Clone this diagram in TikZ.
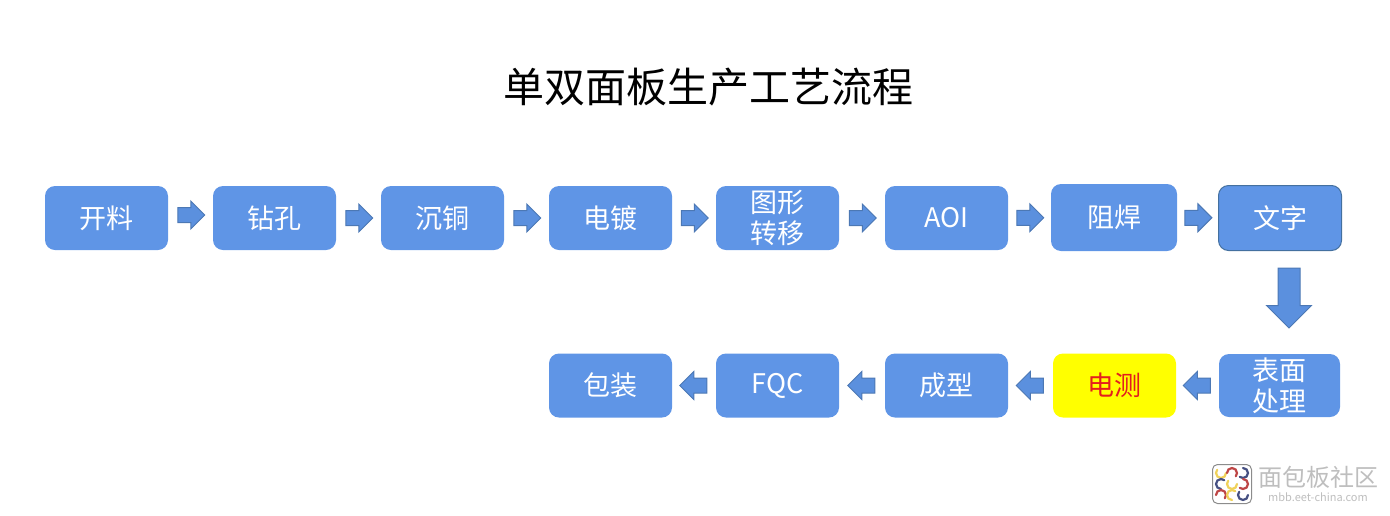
\documentclass[tikz,border=0pt]{standalone}
\usepackage{fontspec}
\setmainfont{Noto Sans CJK SC}
\usetikzlibrary{shapes.arrows,calc}
\definecolor{boxblue}{RGB}{95,149,230}
\definecolor{edgeblue}{RGB}{68,112,159}
\definecolor{arrowblue}{RGB}{91,144,222}
\definecolor{arrowedge}{RGB}{76,120,180}
\definecolor{pureyellow}{RGB}{255,255,0}
\definecolor{purered}{RGB}{228,30,30}
\definecolor{logoyellow}{RGB}{240,210,90}
\definecolor{logored}{RGB}{190,70,70}
\definecolor{logonavy}{RGB}{70,80,130}
\definecolor{wmgrey}{RGB}{190,190,190}
\tikzset{
  stepbox/.style={draw=none,fill=boxblue,rounded corners=10pt,minimum width=123pt,minimum height=64pt,inner sep=0pt,align=center,text=white,font=\fontsize{27}{31}\selectfont},
  hiliteBox/.style={stepbox,fill=pureyellow,text=purered},
  blockarrow/.style={shape=single arrow,draw=arrowedge,line width=1pt,fill=arrowblue,single arrow head extend=6.5pt,single arrow tip angle=90,single arrow head indent=0pt,minimum height=27pt,inner xsep=0pt,inner ysep=7pt,outer sep=0pt},
  bigarrow/.style={blockarrow,shape border rotate=270,single arrow head extend=11.5pt,inner xsep=10.5pt,inner ysep=0pt,minimum height=60pt},
  ringarc/.style={line width=2.2pt,line cap=round}
}
\begin{document}
\begin{tikzpicture}[x=1pt,y=-1pt]
\useasboundingbox (0,0) rectangle (1390,515);
\node[font=\fontsize{41}{41}\selectfont,inner sep=0pt] (title) at (708,87) {单双面板生产工艺流程};
\node[stepbox] (n1) at (106.5,218) {开料};
\node[stepbox] (n2) at (274.5,218) {钻孔};
\node[stepbox] (n3) at (442.5,218) {沉铜};
\node[stepbox] (n4) at (610.5,218) {电镀};
\node[stepbox] (n5) at (777.5,218) {图形\\转移};
\node[stepbox] (n6) at (946.5,218) {AOI};
\node[stepbox,minimum width=126pt,minimum height=67pt] (n7) at (1114,217.5) {阻焊};
\node[stepbox,draw=edgeblue,line width=1pt,minimum width=123pt,minimum height=65pt] (n8) at (1280,218) {文字};
\node[stepbox,minimum width=121pt,minimum height=63pt] (n9) at (1279.5,385.5) {表面\\处理};
\node[hiliteBox] (n10) at (1114.5,385.5) {电测};
\node[stepbox] (n11) at (946.5,385.5) {成型};
\node[stepbox] (n12) at (777.5,385.5) {FQC};
\node[stepbox] (n13) at (610.5,385.5) {包装};
\foreach \a/\b/\ys in {n1/n2/3,n2/n3/0,n3/n4/0,n4/n5/0,n5/n6/0,n6/n7/0,n7/n8/0}{
  \node[blockarrow,xshift=-3pt,yshift=\ys pt] (arr-\a) at ($(\a.east)!0.5!(\b.west)$) {};
}
\node[bigarrow] (arr-n8) at (1289,292.5) {};
\foreach \a/\b in {n9/n10,n10/n11,n11/n12,n12/n13}{
  \node[blockarrow,shape border rotate=180,xshift=3pt] (arr-\a) at ($(\a.west)!0.5!(\b.east)$) {};
}
% watermark
\node[draw=black!45,fill=white,line width=1pt,rounded corners=5pt,minimum size=39pt,inner sep=0pt] (logo) at (1232,484) {};
\foreach \cx/\cy/\col/\st in {1221/473/logoyellow/0,1232/473/logored/180,1243/473/logonavy/90,1221/484/logonavy/270,1232/484/logoyellow/0,1243/484/logored/90,1221/495/logored/180,1232/495/logoyellow/270,1243/495/logonavy/0}{
  \draw[ringarc,draw=\col] (\cx,\cy) ++(\st:5pt) arc[start angle=\st,delta angle=-220,radius=5pt];
}
\node[font=\fontsize{24}{24}\selectfont,text=wmgrey,inner sep=0pt] (wm) at (1318,477) {面包板社区};
\node[font=\fontsize{11}{11}\selectfont,text=wmgrey,inner sep=0pt] (wmsub) at (1318,497) {mbb.eet-china.com};
\end{tikzpicture}
\end{document}
